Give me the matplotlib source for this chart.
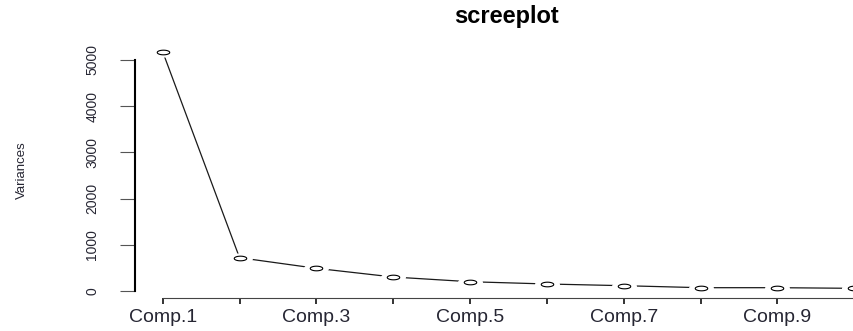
import numpy as np
import matplotlib
matplotlib.use("Agg")
import matplotlib.pyplot as plt

# Variances of the principal components
comps = ["Comp.1", "Comp.2", "Comp.3", "Comp.4", "Comp.5",
         "Comp.6", "Comp.7", "Comp.8", "Comp.9", "Comp.10"]
variances = [5180, 721, 491, 303, 201, 152, 115, 72, 72, 58]
yticks = [0, 1000, 2000, 3000, 4000, 5000]

plt.rcParams["font.family"] = ["Liberation Sans", "DejaVu Sans"]
text_color = "#262633"

x = np.arange(1, len(comps) + 1)

# Base-R style ranges: 4% padding around the data
ypad = 0.04 * (max(variances) - min(variances))
xpad = 0.04 * (x[-1] - x[0])

fig = plt.figure(figsize=(8.54, 3.31), dpi=100)
ax = fig.add_axes([135 / 854, 33.2 / 331, 747 / 854, 255.6 / 331])
ax.set_xlim(x[0] - xpad, x[-1] + xpad)
ax.set_ylim(min(variances) - ypad, max(variances) + ypad)

# flat open-circle marker, with a white halo so the line stops short of it
t = np.linspace(0, 2 * np.pi, 60)
ellipse = np.column_stack([2.7 * np.cos(t), np.sin(t)])

ax.plot(x, variances, color="#1a1a1a", lw=0.9, zorder=2)
ax.plot(x, variances, ls="none", marker=ellipse, ms=17, mfc="white",
        mec="white", zorder=3, clip_on=False)
ax.plot(x, variances, ls="none", marker=ellipse, ms=9, mfc="white",
        mec="black", mew=0.8, zorder=4, clip_on=False)

for side in ["top", "right"]:
    ax.spines[side].set_visible(False)
ax.spines["left"].set_bounds(yticks[0], yticks[-1])
ax.spines["left"].set_linewidth(1.5)
ax.spines["bottom"].set_bounds(x[0], x[-1])
ax.spines["bottom"].set_linewidth(0.8)
ax.spines["bottom"].set_color("#444444")

ax.set_yticks(yticks)
ax.set_yticklabels([str(v) for v in yticks])
ax.tick_params(axis="y", length=10.8, width=0.8, pad=15, labelsize=10,
               labelrotation=90, labelcolor=text_color, color="#555555")
for lab in ax.get_yticklabels():
    lab.set_va("center")

ax.set_xticks(x)
ax.set_xticklabels([c if i % 2 == 0 else "" for i, c in enumerate(comps)])
ax.tick_params(axis="x", length=4.3, width=1.4, pad=4, labelsize=14,
               labelcolor=text_color, color="#333333")

fig.text(22 / 854, 1 - 170 / 331, "Variances", rotation=90, ha="center",
         va="center", fontsize=9.5, color=text_color)
fig.text(507 / 854, 1 - 16 / 331, "screeplot", ha="center", va="center",
         fontsize=17, fontweight="bold", color="black")

fig.savefig("out.png", dpi=100)
